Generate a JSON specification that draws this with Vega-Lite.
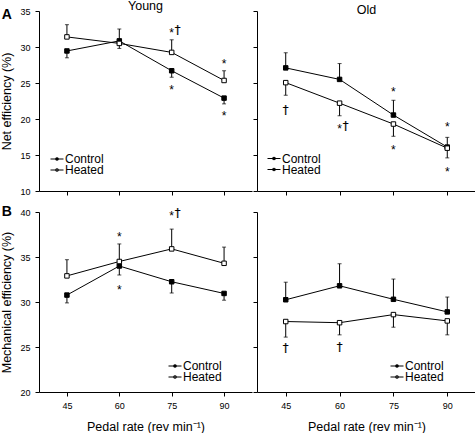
{
  "$schema": "https://vega.github.io/schema/vega-lite/v6.json",
  "padding": 0,
  "autosize": {"type": "pad"},
  "spacing": 9,
  "config": {
    "font": "Liberation Sans",
    "view": {"stroke": null},
    "axis": {"grid": false, "labelOverlap": false, "domainColor": "#000", "tickColor": "#000", "labelColor": "#000", "titleColor": "#000", "tickSize": 4, "labelFontSize": 9, "titleFontSize": 12.5, "titleFontWeight": "normal", "labelFont": "Liberation Sans", "titleFont": "Liberation Sans", "domainWidth": 1, "tickWidth": 1},
    "title": {"fontSize": 12.5, "fontWeight": "normal", "color": "#000", "font": "Liberation Sans"},
    "legend": {"labelFont": "Liberation Sans", "labelColor": "#000", "labelFontSize": 12},
    "text": {"font": "Liberation Sans", "color": "#000"}
  },
  "datasets": {
    "pts": [
      {"p": "YN", "cond": "Control", "rate": 45, "v": 29.45, "e": 28.5},
      {"p": "YN", "cond": "Control", "rate": 60, "v": 30.85, "e": 32.5},
      {"p": "YN", "cond": "Control", "rate": 75, "v": 26.7, "e": 25.8},
      {"p": "YN", "cond": "Control", "rate": 90, "v": 22.9, "e": 22.1},
      {"p": "YN", "cond": "Heated", "rate": 45, "v": 31.4, "e": 33.1},
      {"p": "YN", "cond": "Heated", "rate": 60, "v": 30.5, "e": 29.8},
      {"p": "YN", "cond": "Heated", "rate": 75, "v": 29.25, "e": 31.0},
      {"p": "YN", "cond": "Heated", "rate": 90, "v": 25.35, "e": 26.7},
      {"p": "ON", "cond": "Control", "rate": 45, "v": 27.1, "e": 29.2},
      {"p": "ON", "cond": "Control", "rate": 60, "v": 25.5, "e": 27.7},
      {"p": "ON", "cond": "Control", "rate": 75, "v": 20.55, "e": 22.6},
      {"p": "ON", "cond": "Control", "rate": 90, "v": 16.1, "e": 17.45},
      {"p": "ON", "cond": "Heated", "rate": 45, "v": 25.05, "e": 23.3},
      {"p": "ON", "cond": "Heated", "rate": 60, "v": 22.2, "e": 20.45},
      {"p": "ON", "cond": "Heated", "rate": 75, "v": 19.3, "e": 17.6},
      {"p": "ON", "cond": "Heated", "rate": 90, "v": 15.95, "e": 14.6},
      {"p": "YM", "cond": "Control", "rate": 45, "v": 30.77, "e": 29.9},
      {"p": "YM", "cond": "Control", "rate": 60, "v": 34.0, "e": 33.0},
      {"p": "YM", "cond": "Control", "rate": 75, "v": 32.25, "e": 31.0},
      {"p": "YM", "cond": "Control", "rate": 90, "v": 30.95, "e": 30.2},
      {"p": "YM", "cond": "Heated", "rate": 45, "v": 32.9, "e": 34.7},
      {"p": "YM", "cond": "Heated", "rate": 60, "v": 34.5, "e": 36.45},
      {"p": "YM", "cond": "Heated", "rate": 75, "v": 35.9, "e": 38.1},
      {"p": "YM", "cond": "Heated", "rate": 90, "v": 34.3, "e": 36.1},
      {"p": "OM", "cond": "Control", "rate": 45, "v": 30.25, "e": 32.2},
      {"p": "OM", "cond": "Control", "rate": 60, "v": 31.8, "e": 34.25},
      {"p": "OM", "cond": "Control", "rate": 75, "v": 30.3, "e": 32.55},
      {"p": "OM", "cond": "Control", "rate": 90, "v": 28.9, "e": 30.55},
      {"p": "OM", "cond": "Heated", "rate": 45, "v": 27.83, "e": 26.1},
      {"p": "OM", "cond": "Heated", "rate": 60, "v": 27.7, "e": 26.35},
      {"p": "OM", "cond": "Heated", "rate": 75, "v": 28.6, "e": 27.2},
      {"p": "OM", "cond": "Heated", "rate": 90, "v": 27.9, "e": 26.35}
    ],
    "ann": [
      {"p": "YN", "rate": 75, "v": 32.3, "t": "*†"},
      {"p": "YN", "rate": 90, "v": 28.0, "t": "*"},
      {"p": "YN", "rate": 75, "v": 24.4, "t": "*"},
      {"p": "YN", "rate": 90, "v": 20.8, "t": "*"},
      {"p": "ON", "rate": 45, "v": 21.1, "t": "†"},
      {"p": "ON", "rate": 60, "v": 19.0, "t": "*†"},
      {"p": "ON", "rate": 75, "v": 24.1, "t": "*"},
      {"p": "ON", "rate": 75, "v": 16.1, "t": "*"},
      {"p": "ON", "rate": 90, "v": 19.35, "t": "*"},
      {"p": "ON", "rate": 90, "v": 13.1, "t": "*"},
      {"p": "YM", "rate": 60, "v": 37.6, "t": "*"},
      {"p": "YM", "rate": 60, "v": 31.66, "t": "*"},
      {"p": "YM", "rate": 75, "v": 39.9, "t": "*†"},
      {"p": "OM", "rate": 45, "v": 24.8, "t": "†"},
      {"p": "OM", "rate": 60, "v": 24.9, "t": "†"}
    ]
  },
  "resolve": {"scale": {"x": "independent", "y": "independent", "fill": "independent"}, "legend": {"fill": "independent"}},
  "vconcat": [
    {
      "hconcat": [
        {
          "width": 213, "height": 180,
          "title": {"text": "Young", "offset": -5.6},
          "encoding": {
            "x": {"field": "rate", "type": "quantitative", "scale": {"domain": [37, 98], "nice": false}, "axis": {"values": [45, 60, 75, 90], "labels": false, "title": null}},
            "y": {"field": "v", "type": "quantitative", "scale": {"domain": [10, 35], "nice": false}, "axis": {"values": [10, 15, 20, 25, 30, 35], "labelOverlap": false, "labelPadding": 5, "title": "Net efficiency (%)", "titlePadding": 6.5}}
          },
          "layer": [
            {"data": {"name": "pts"}, "transform": [{"filter": "datum.p === 'YN'"}],
             "mark": {"type": "line", "color": "#000", "strokeWidth": 1},
             "encoding": {"detail": {"field": "cond"}}},
            {"data": {"name": "pts"}, "transform": [{"filter": "datum.p === 'YN'"}],
             "mark": {"type": "rule", "color": "#000", "strokeWidth": 1},
             "encoding": {"y2": {"field": "e"}}},
            {"data": {"name": "pts"}, "transform": [{"filter": "datum.p === 'YN'"}],
             "mark": {"type": "tick", "orient": "horizontal", "color": "#000", "size": 4, "thickness": 1},
             "encoding": {"y": {"field": "e", "type": "quantitative", "axis": {"values": [10, 15, 20, 25, 30, 35], "labelOverlap": false, "labelPadding": 5, "title": "Net efficiency (%)", "titlePadding": 6.5}}}},
            {"data": {"name": "pts"}, "transform": [{"filter": "datum.p === 'YN'"}],
             "mark": {"type": "point", "shape": "square", "filled": true, "size": 20, "stroke": "#000", "strokeWidth": 1, "opacity": 1},
             "encoding": {
               "fill": {"field": "cond", "type": "nominal", "scale": {"domain": ["Control", "Heated"], "range": ["#000000", "#ffffff"]},
                 "legend": {"title": null, "orient": "none", "legendX": 11, "legendY": 143, "symbolType": "M-1,0H1M-0.17,-0.17H0.17V0.17H-0.17Z", "symbolSize": 169, "symbolStrokeColor": "#000", "symbolStrokeWidth": 1, "labelOffset": 1, "rowPadding": -3, "clipHeight": 10}}}},
            {"data": {"name": "ann"}, "transform": [{"filter": "datum.p === 'YN' && indexof(datum.t, '*') >= 0"}],
             "mark": {"type": "text", "fontSize": 12, "baseline": "middle", "align": "center", "dy": 3, "color": "#000", "text": "*"}},
            {"data": {"name": "ann"}, "transform": [{"filter": "datum.p === 'YN' && datum.t === '*†'"}],
             "mark": {"type": "text", "font": "DejaVu Sans", "fontSize": 11.5, "baseline": "middle", "align": "center", "dx": 6, "dy": 1, "color": "#000", "stroke": "#000", "strokeWidth": 0.2, "text": "†"}},
            {"data": {"values": [{"lab": "A", "rate": 27.8, "v": 34.4}]},
             "mark": {"type": "text", "fontSize": 14, "fontWeight": "bold", "baseline": "middle", "align": "center", "color": "#000"},
             "encoding": {"text": {"field": "lab"}}}
          ]
        },
        {
          "width": 219, "height": 180,
          "title": {"text": "Old", "offset": -5.6},
          "encoding": {
            "x": {"field": "rate", "type": "quantitative", "scale": {"domain": [37, 98], "nice": false}, "axis": {"values": [45, 60, 75, 90], "labels": false, "title": null}},
            "y": {"field": "v", "type": "quantitative", "scale": {"domain": [10, 35], "nice": false}, "axis": {"values": [10, 15, 20, 25, 30, 35], "labels": false, "title": null}}
          },
          "layer": [
            {"data": {"name": "pts"}, "transform": [{"filter": "datum.p === 'ON'"}],
             "mark": {"type": "line", "color": "#000", "strokeWidth": 1},
             "encoding": {"detail": {"field": "cond"}}},
            {"data": {"name": "pts"}, "transform": [{"filter": "datum.p === 'ON'"}],
             "mark": {"type": "rule", "color": "#000", "strokeWidth": 1},
             "encoding": {"y2": {"field": "e"}}},
            {"data": {"name": "pts"}, "transform": [{"filter": "datum.p === 'ON'"}],
             "mark": {"type": "tick", "orient": "horizontal", "color": "#000", "size": 4, "thickness": 1},
             "encoding": {"y": {"field": "e", "type": "quantitative", "axis": {"values": [10, 15, 20, 25, 30, 35], "labels": false, "title": null}}}},
            {"data": {"name": "pts"}, "transform": [{"filter": "datum.p === 'ON'"}],
             "mark": {"type": "point", "shape": "square", "filled": true, "size": 20, "stroke": "#000", "strokeWidth": 1, "opacity": 1},
             "encoding": {
               "fill": {"field": "cond", "type": "nominal", "scale": {"domain": ["Control", "Heated"], "range": ["#000000", "#ffffff"]},
                 "legend": {"title": null, "orient": "none", "legendX": 10, "legendY": 142.5, "symbolType": "M-1,0H1M-0.17,-0.17H0.17V0.17H-0.17Z", "symbolSize": 169, "symbolStrokeColor": "#000", "symbolStrokeWidth": 1, "labelOffset": 1, "rowPadding": -3, "clipHeight": 10}}}},
            {"data": {"name": "ann"}, "transform": [{"filter": "datum.p === 'ON' && indexof(datum.t, '*') >= 0"}],
             "mark": {"type": "text", "fontSize": 12, "baseline": "middle", "align": "center", "dy": 3, "color": "#000", "text": "*"}},
            {"data": {"name": "ann"}, "transform": [{"filter": "datum.p === 'ON' && datum.t === '*†'"}],
             "mark": {"type": "text", "font": "DejaVu Sans", "fontSize": 11.5, "baseline": "middle", "align": "center", "dx": 6, "dy": 1, "color": "#000", "stroke": "#000", "strokeWidth": 0.2, "text": "†"}},
            {"data": {"name": "ann"}, "transform": [{"filter": "datum.p === 'ON' && datum.t === '†'"}],
             "mark": {"type": "text", "font": "DejaVu Sans", "fontSize": 11.5, "baseline": "middle", "align": "center", "dy": 0, "color": "#000", "stroke": "#000", "strokeWidth": 0.2, "text": "†"}}
          ]
        }
      ],
      "spacing": 0,
      "resolve": {"scale": {"x": "independent", "y": "independent", "fill": "independent"}, "legend": {"fill": "independent"}}
    },
    {
      "hconcat": [
        {
          "width": 213, "height": 180,
          "encoding": {
            "x": {"field": "rate", "type": "quantitative", "scale": {"domain": [37, 98], "nice": false}, "axis": {"values": [45, 60, 75, 90], "labelPadding": 5, "title": "Pedal rate (rev min⁻¹)", "titlePadding": 10}},
            "y": {"field": "v", "type": "quantitative", "scale": {"domain": [20, 40], "nice": false}, "axis": {"values": [20, 25, 30, 35, 40], "labelOverlap": false, "labelPadding": 5, "title": "Mechanical efficiency (%)", "titlePadding": 6.5}}
          },
          "layer": [
            {"data": {"name": "pts"}, "transform": [{"filter": "datum.p === 'YM'"}],
             "mark": {"type": "line", "color": "#000", "strokeWidth": 1},
             "encoding": {"detail": {"field": "cond"}}},
            {"data": {"name": "pts"}, "transform": [{"filter": "datum.p === 'YM'"}],
             "mark": {"type": "rule", "color": "#000", "strokeWidth": 1},
             "encoding": {"y2": {"field": "e"}}},
            {"data": {"name": "pts"}, "transform": [{"filter": "datum.p === 'YM'"}],
             "mark": {"type": "tick", "orient": "horizontal", "color": "#000", "size": 4, "thickness": 1},
             "encoding": {"y": {"field": "e", "type": "quantitative", "axis": {"values": [20, 25, 30, 35, 40], "labelOverlap": false, "labelPadding": 5, "title": "Mechanical efficiency (%)", "titlePadding": 6.5}}}},
            {"data": {"name": "pts"}, "transform": [{"filter": "datum.p === 'YM'"}],
             "mark": {"type": "point", "shape": "square", "filled": true, "size": 20, "stroke": "#000", "strokeWidth": 1, "opacity": 1},
             "encoding": {
               "fill": {"field": "cond", "type": "nominal", "scale": {"domain": ["Control", "Heated"], "range": ["#000000", "#ffffff"]},
                 "legend": {"title": null, "orient": "none", "legendX": 129, "legendY": 149, "symbolType": "M-1,0H1M-0.17,-0.17H0.17V0.17H-0.17Z", "symbolSize": 169, "symbolStrokeColor": "#000", "symbolStrokeWidth": 1, "labelOffset": 1, "rowPadding": -3, "clipHeight": 10}}}},
            {"data": {"name": "ann"}, "transform": [{"filter": "datum.p === 'YM' && indexof(datum.t, '*') >= 0"}],
             "mark": {"type": "text", "fontSize": 12, "baseline": "middle", "align": "center", "dy": 3, "color": "#000", "text": "*"}},
            {"data": {"name": "ann"}, "transform": [{"filter": "datum.p === 'YM' && datum.t === '*†'"}],
             "mark": {"type": "text", "font": "DejaVu Sans", "fontSize": 11.5, "baseline": "middle", "align": "center", "dx": 6, "dy": 1, "color": "#000", "stroke": "#000", "strokeWidth": 0.2, "text": "†"}},
            {"data": {"values": [{"lab": "B", "rate": 27.8, "v": 40}]},
             "mark": {"type": "text", "fontSize": 14, "fontWeight": "bold", "baseline": "middle", "align": "center", "color": "#000"},
             "encoding": {"text": {"field": "lab"}}}
          ]
        },
        {
          "width": 219, "height": 180,
          "encoding": {
            "x": {"field": "rate", "type": "quantitative", "scale": {"domain": [37, 98], "nice": false}, "axis": {"values": [45, 60, 75, 90], "labelPadding": 5, "title": "Pedal rate (rev min⁻¹)", "titlePadding": 10}},
            "y": {"field": "v", "type": "quantitative", "scale": {"domain": [20, 40], "nice": false}, "axis": {"values": [20, 25, 30, 35, 40], "labels": false, "title": null}}
          },
          "layer": [
            {"data": {"name": "pts"}, "transform": [{"filter": "datum.p === 'OM'"}],
             "mark": {"type": "line", "color": "#000", "strokeWidth": 1},
             "encoding": {"detail": {"field": "cond"}}},
            {"data": {"name": "pts"}, "transform": [{"filter": "datum.p === 'OM'"}],
             "mark": {"type": "rule", "color": "#000", "strokeWidth": 1},
             "encoding": {"y2": {"field": "e"}}},
            {"data": {"name": "pts"}, "transform": [{"filter": "datum.p === 'OM'"}],
             "mark": {"type": "tick", "orient": "horizontal", "color": "#000", "size": 4, "thickness": 1},
             "encoding": {"y": {"field": "e", "type": "quantitative", "axis": {"values": [20, 25, 30, 35, 40], "labels": false, "title": null}}}},
            {"data": {"name": "pts"}, "transform": [{"filter": "datum.p === 'OM'"}],
             "mark": {"type": "point", "shape": "square", "filled": true, "size": 20, "stroke": "#000", "strokeWidth": 1, "opacity": 1},
             "encoding": {
               "fill": {"field": "cond", "type": "nominal", "scale": {"domain": ["Control", "Heated"], "range": ["#000000", "#ffffff"]},
                 "legend": {"title": null, "orient": "none", "legendX": 133, "legendY": 149, "symbolType": "M-1,0H1M-0.17,-0.17H0.17V0.17H-0.17Z", "symbolSize": 169, "symbolStrokeColor": "#000", "symbolStrokeWidth": 1, "labelOffset": 1, "rowPadding": -3, "clipHeight": 10}}}},
            {"data": {"name": "ann"}, "transform": [{"filter": "datum.p === 'OM'"}],
             "mark": {"type": "text", "font": "DejaVu Sans", "fontSize": 11.5, "baseline": "middle", "align": "center", "dy": 0, "color": "#000", "stroke": "#000", "strokeWidth": 0.2, "text": "†"}}
          ]
        }
      ],
      "spacing": 0,
      "resolve": {"scale": {"x": "independent", "y": "independent", "fill": "independent"}, "legend": {"fill": "independent"}}
    }
  ]
}
